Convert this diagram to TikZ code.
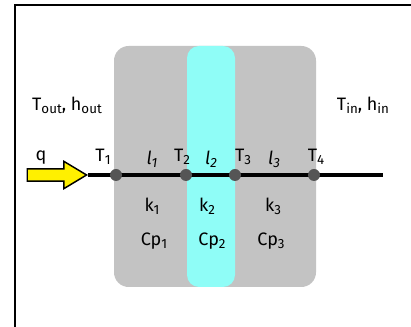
\documentclass[tikz,border=0pt]{standalone}
\usepackage{fontspec}
\setmainfont{Fira Sans}
\usepackage{xcolor}
\usetikzlibrary{shapes.arrows,backgrounds}

\definecolor{slabgray}{RGB}{195,195,195}
\definecolor{slabcyan}{RGB}{143,253,247}
\definecolor{dotgray}{RGB}{85,85,85}
\definecolor{qyellow}{RGB}{255,240,0}

\newcommand{\lowsub}[1]{\raisebox{-0.25ex}{\fontsize{10}{10}\selectfont #1}}

\begin{document}
\begin{tikzpicture}[
  x=0.75pt, y=-0.75pt,
  font=\fontsize{13.5}{15}\selectfont,
  lbl/.style={inner sep=0pt, anchor=base},
  dot/.style={circle, fill=dotgray, minimum size=9pt, inner sep=0pt},
  rod/.style={line width=3.2pt},
  qarrow/.style={single arrow, draw, line width=1.1pt, fill=qyellow, inner xsep=0pt, inner ysep=4.1pt,
    single arrow head extend=5.6pt, single arrow tip angle=62, minimum height=44.5pt, anchor=tip}]
\useasboundingbox (0,0) rectangle (411,327);

% frame (top and left only)
\draw[line width=1.6pt] (14,5) -- (411,5);
\draw[line width=1.6pt] (15,5) -- (15,327);

% heat flux arrow and interface points
\node[qarrow] (qin) at (88,175) {};
\node[dot] (t1) at (116,175) {};
\node[dot] (t2) at (186,175) {};
\node[dot] (t3) at (235,175) {};
\node[dot] (t4) at (314,175) {};
\coordinate (rodend) at (383,175);

% layers and rod behind the points
\begin{scope}[on background layer]
\fill[slabgray, rounded corners=11pt] (114,46) rectangle (316,287);
\fill[slabcyan, rounded corners=9pt] (187,46) rectangle (235,287);
\draw[rod] (qin.tip) -- (rodend);
\end{scope}

% labels
\node[lbl] (q) at (41,161) {q};
\node[lbl] (lt1) at (103,162) {T\lowsub{1}};
\node[lbl] (lt2) at (182,162) {T\lowsub{2}};
\node[lbl] (lt3) at (243,162) {T\lowsub{3}};
\node[lbl] (lt4) at (316,162) {T\lowsub{4}};
\node[lbl] (l1) at (152,165) {\textit{l}\lowsub{\textit{1}}};
\node[lbl] (l2) at (211,165) {\textit{l}\lowsub{\textit{2}}};
\node[lbl] (l3) at (274,165) {\textit{l}\lowsub{\textit{3}}};
\node[lbl] (k1) at (152,212) {k\lowsub{1}};
\node[lbl] (k2) at (207,212) {k\lowsub{2}};
\node[lbl] (k3) at (273,212) {k\lowsub{3}};
\node[lbl] (cp1) at (154,246) {Cp\lowsub{1}};
\node[lbl] (cp2) at (212,246) {Cp\lowsub{2}};
\node[lbl] (cp3) at (271,246) {Cp\lowsub{3}};
\node[lbl] (outside) at (67,111) {T\lowsub{out}, h\lowsub{out}};
\node[lbl] (inside) at (363,111) {T\lowsub{in}, h\lowsub{in}};
\end{tikzpicture}
\end{document}
